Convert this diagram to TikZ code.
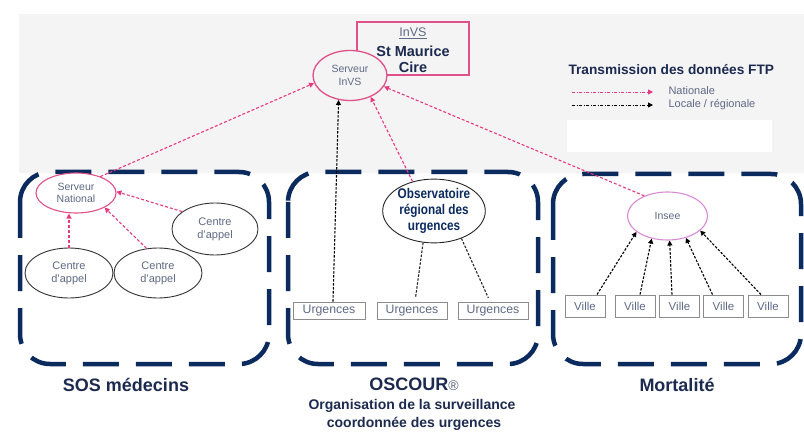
\documentclass[tikz,border=0pt]{standalone}
\usepackage{fontspec}
\setmainfont{Liberation Sans}
\usetikzlibrary{shapes.geometric,arrows.meta}
\definecolor{navy}{HTML}{0B2A5E}
\definecolor{titlenavy}{HTML}{1C2A50}
\definecolor{bggrey}{HTML}{F4F4F4}
\definecolor{pinkA}{HTML}{E8387F}
\definecolor{pinkE}{HTML}{E0508A}
\definecolor{magE}{HTML}{D98AD2}
\definecolor{txtgrey}{HTML}{5E6984}
\definecolor{boxgrey}{HTML}{8C8C8C}
\begin{document}
\begin{tikzpicture}[x=1pt,y=-1pt,
  grp/.style={draw=navy, line width=4.5pt, rounded corners=30pt, dash pattern=on 36pt off 17pt},
  ell/.style={ellipse, draw, inner sep=0pt, fill=white, text=txtgrey, align=center},
  smallbox/.style={draw=boxgrey, line width=0.9pt, fill=white, inner sep=0pt, text=txtgrey},
  natl/.style={draw=pinkA, line width=1.1pt, dash pattern=on 3pt off 2pt, -{Triangle[length=5pt,width=5pt]}},
  locl/.style={draw=black, line width=1.1pt, dash pattern=on 2.5pt off 1.5pt, -{Triangle[length=5pt,width=5pt]}},
  lnk/.style={draw=black!85, line width=1.1pt, dash pattern=on 2.5pt off 1.5pt},
  biglbl/.style={font=\fontsize{18}{20}\selectfont\bfseries, text=titlenavy},
]
\useasboundingbox (0,0) rectangle (804,433);
\fill[white] (0,0) rectangle (804,433);
\fill[bggrey] (19,14) rectangle (804,173);
\fill[white] (567,120) rectangle (772,152);

% group boxes
\draw[grp] (20,172) rectangle (269,364);
\draw[grp] (288,172) rectangle (538,364);
\draw[grp] (553,174) rectangle (801,364);

% InVS box and server
\node[draw=pinkE, line width=1.3pt, fill=bggrey, minimum width=112pt, minimum height=53pt, inner sep=0pt] (invsbox) at (413,48.5) {};
\node[text=txtgrey, font=\fontsize{12.5}{14}\selectfont] (invslbl) at (413,33) {\underline{InVS}};
\node[text=titlenavy, font=\fontsize{14.5}{16}\selectfont\bfseries] (stm) at (413,51) {St Maurice};
\node[text=titlenavy, font=\fontsize{14.5}{16}\selectfont\bfseries] (cire) at (413,67) {Cire};
\node[ell, draw=pinkE, line width=1.3pt, fill=bggrey, minimum width=74pt, minimum height=50pt, font=\fontsize{10.5}{12.5}\selectfont] (invs) at (350,75.5) {Serveur\\InVS};

% legend
\node[anchor=west, text=titlenavy, font=\fontsize{13.7}{15}\selectfont\bfseries] (legt) at (565,70) {Transmission des données FTP};
\coordinate (l1a) at (572,92);
\coordinate (l1b) at (653,92);
\coordinate (l2a) at (572,105);
\coordinate (l2b) at (653,105);
\draw[draw=pinkA, line width=0.9pt, dash pattern=on 3pt off 1.5pt on 1pt off 1.5pt, -{Triangle[length=5pt,width=5pt]}] (l1a) -- (l1b);
\draw[draw=black, line width=0.9pt, dash pattern=on 3pt off 1.5pt on 1pt off 1.5pt, -{Triangle[length=5pt,width=5pt]}] (l2a) -- (l2b);
\node[anchor=west, text=txtgrey, font=\fontsize{11}{12}\selectfont] (legn) at (665,91) {Nationale};
\node[anchor=west, text=txtgrey, font=\fontsize{11}{12}\selectfont] (legl) at (665,105) {Locale / régionale};

% SOS medecins
\node[ell, draw=pinkE, line width=1.1pt, minimum width=80pt, minimum height=40pt, font=\fontsize{10.5}{12.5}\selectfont] (sn) at (76,193) {Serveur\\National};
\node[ell, draw=black!80, line width=0.9pt, minimum width=88pt, minimum height=50pt, font=\fontsize{11}{13}\selectfont] (c1) at (69,273) {Centre\\d'appel};
\node[ell, draw=black!80, line width=0.9pt, minimum width=88pt, minimum height=50pt, font=\fontsize{11}{13}\selectfont] (c2) at (158,273) {Centre\\d'appel};
\node[ell, draw=black!80, line width=0.9pt, minimum width=86pt, minimum height=52pt, font=\fontsize{11}{13}\selectfont] (c3) at (215,229) {Centre\\d'appel};
\draw[natl] (c1.north) -- (c1.north |- sn.south);
\draw[natl] (c2.115) -- (sn.333);
\draw[natl] (c3.152) -- (sn.2);
\draw[natl] (sn.34) -- (invs.192);

% OSCOUR
\node[ell, draw=black!85, line width=0.9pt, minimum width=82pt, minimum height=62pt, text=navy, font=\fontsize{14}{16}\selectfont\bfseries\addfontfeature{FakeStretch=0.84}] (obs) at (434,211) {Observatoire\\régional des\\urgences};
\node[smallbox, minimum width=72pt, minimum height=17pt, font=\fontsize{12.3}{14}\selectfont] (u1) at (329,310.5) {Urgences};
\node[smallbox, minimum width=70pt, minimum height=17pt, font=\fontsize{12.3}{14}\selectfont] (u2) at (412,310.5) {Urgences};
\node[smallbox, minimum width=70pt, minimum height=17pt, font=\fontsize{12.3}{14}\selectfont] (u3) at (493,310.5) {Urgences};
\draw[locl] ([xshift=4pt]u1.north) -- (invs.245);
\draw[lnk, shorten >=5pt] (obs.251) -- ([xshift=3pt]u2.north);
\draw[lnk, shorten >=4pt] (obs.315) -- ([xshift=-3pt]u3.north);
\draw[natl] (obs.126) -- (invs.314);

% Mortalite
\node[ell, draw=magE, line width=1.1pt, minimum width=80pt, minimum height=48pt, font=\fontsize{10.5}{12}\selectfont] (insee) at (667.5,216) {Insee};
\node[smallbox, minimum width=40pt, minimum height=22pt, font=\fontsize{11.5}{13}\selectfont] (v1) at (585,306) {Ville};
\node[smallbox, minimum width=40pt, minimum height=22pt, font=\fontsize{11.5}{13}\selectfont] (v2) at (635,306) {Ville};
\node[smallbox, minimum width=40pt, minimum height=22pt, font=\fontsize{11.5}{13}\selectfont] (v3) at (679.5,306) {Ville};
\node[smallbox, minimum width=40pt, minimum height=22pt, font=\fontsize{11.5}{13}\selectfont] (v4) at (723.5,306) {Ville};
\node[smallbox, minimum width=40pt, minimum height=22pt, font=\fontsize{11.5}{13}\selectfont] (v5) at (768,306) {Ville};
\draw[locl] ([xshift=12pt]v1.north) -- (insee.207);
\draw[locl] ([xshift=5pt]v2.north) -- (insee.235);
\draw[locl] ([xshift=-7.5pt]v3.north) -- (insee.275);
\draw[locl] ([xshift=-11pt]v4.north) -- (insee.310);
\draw[locl] ([xshift=-7pt]v5.north) -- (insee.336);
\draw[natl] (insee.139) -- (invs.342);

% labels
\node[biglbl] (sos) at (126,385) {SOS médecins};
\node[biglbl] (osc) at (414,384) {OSCOUR{\mdseries\fontsize{14}{16}\selectfont\textcolor{titlenavy!75}{®}}};
\node[text=titlenavy, font=\fontsize{14}{16}\selectfont\bfseries] (org1) at (412,406) {Organisation de la surveillance};
\node[text=titlenavy, font=\fontsize{14}{16}\selectfont\bfseries] (org2) at (414,424) {coordonnée des urgences};
\node[biglbl] (mort) at (677,385) {Mortalité};
\end{tikzpicture}
\end{document}
